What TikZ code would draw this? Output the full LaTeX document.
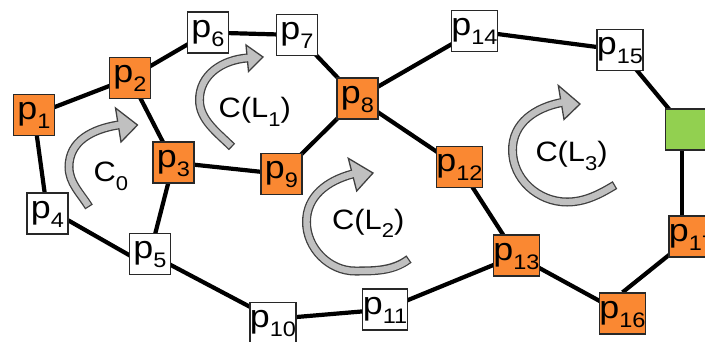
\documentclass[tikz,border=0pt]{standalone}
\usepackage{fontspec}
\setmainfont{Liberation Sans}
\usetikzlibrary{backgrounds}
\definecolor{nodeorange}{RGB}{250,136,50}
\definecolor{nodegreen}{RGB}{146,208,80}
\definecolor{arrowfill}{RGB}{192,192,192}
\definecolor{arrowline}{RGB}{64,64,64}
\definecolor{boxline}{RGB}{40,40,40}
\newcommand{\plab}[1]{\scalebox{1.12}[1]{\fontsize{32}{32}\selectfont p\raisebox{-9pt}{\fontsize{21}{21}\selectfont #1}}}
\newcommand{\csb}[1]{\raisebox{-8.5pt}{\fontsize{20}{20}\selectfont #1}}
\newcommand{\clab}[1]{\scalebox{1.1}[1]{\fontsize{28}{28}\selectfont #1}}
\tikzset{
  pbox/.style={draw=boxline, line width=1.3pt, minimum width=41pt, minimum height=41pt, inner sep=0pt, text height=17pt, text depth=8pt},
  po/.style={pbox, fill=nodeorange},
  pw/.style={pbox, fill=white},
  pg/.style={pbox, fill=nodegreen},
  edge/.style={draw=black, line width=4.2pt},
  band/.style={draw=arrowline, line width=9pt, postaction={draw=arrowfill, line width=6.4pt, shorten <=1.3pt}},
  head/.style={fill=arrowfill, draw=arrowline, line width=1.3pt, line join=miter},
  patch/.style={draw=arrowfill, line width=6.4pt},
  clabel/.style={anchor=base west, inner sep=0pt}
}
\begin{document}
\begin{tikzpicture}[x=1pt,y=-1pt]
\useasboundingbox (0,0) rectangle (705,341);
\clip (0,0) rectangle (705,341);
% nodes
\node[po] (p1) at (34,115) {\plab{1}};
\node[po] (p2) at (130,78) {\plab{2}};
\node[po] (p3) at (173.5,162.5) {\plab{3}};
\node[pw] (p4) at (47.5,213.5) {\plab{4}};
\node[pw] (p5) at (150,254) {\plab{5}};
\node[pw] (p6) at (208,32.5) {\plab{6}};
\node[pw] (p7) at (297,35) {\plab{7}};
\node[po] (p8) at (357.5,98.5) {\plab{8}};
\node[po] (p9) at (281.5,174) {\plab{9}};
\node[pw] (p10) at (273,323) {\plab{10}};
\node[pw] (p11) at (385,309.5) {\plab{11}};
\node[po] (p12) at (459.5,167) {\plab{12}};
\node[po] (p13) at (516.5,255.5) {\plab{13}};
\node[pw] (p14) at (474.5,31) {\plab{14}};
\node[pw] (p15) at (620,50) {\plab{15}};
\node[pg] (g) at (686,129.5) {};
\node[po] (p17) at (692,236.5) {\plab{17}};
\node[po] (p16) at (622.5,313.5) {\plab{16}};
% edges
\begin{pgfonlayer}{background}
\draw[edge] (p1.center) -- (p2.center);
\draw[edge] (p2.center) -- (p6.center);
\draw[edge] (p6.center) -- (p7.center);
\draw[edge] (p7.center) -- (p8.center);
\draw[edge] (p8.center) -- (p14.center);
\draw[edge] (p14.center) -- (p15.center);
\draw[edge] (p15.center) -- (g.center);
\draw[edge] ([xshift=-4pt]g.center) -- ([xshift=-10pt]p17.center);
\draw[edge] (p17.center) -- (p16.north);
\draw[edge] (p16.center) -- (p13.center);
\draw[edge] (p13.center) -- (p12.center);
\draw[edge] (p12.center) -- (p8.center);
\draw[edge] (p8.center) -- (p9.center);
\draw[edge] (p9.center) -- (p3.center);
\draw[edge] (p3.center) -- (p2.center);
\draw[edge] (p3.center) -- (p5.center);
\draw[edge] (p1.center) -- (p4.center);
\draw[edge] ([yshift=5pt]p4.center) -- ([yshift=-13pt]p5.center);
\draw[edge] (p5.center) -- ([yshift=4pt]p10.center);
\draw[edge] ([yshift=4pt]p10.center) -- (p11.center);
\draw[edge] (p11.center) -- (p13.center);
\end{pgfonlayer}
% cycle arrows
\path[band] (89,207) .. controls (80.7,193.4) and (69,183) .. (69,167) .. controls (69,141) and (92.3,129.2) .. (118,125);
\path[head] (115.5,108) -- (137.5,125) -- (121,142) -- cycle;
\path[patch] (116,125.3) -- (120,124.7);
\path[band] (232,147) .. controls (218,133) and (199.5,120) .. (199.5,100) .. controls (199.5,75) and (222,60) .. (247,58);
\path[head] (246,45) -- (263,57) -- (248.5,71.5) -- cycle;
\path[patch] (245,58.2) -- (249,57.8);
\path[band] (409,259) .. controls (393,271) and (375,271) .. (355,271) .. controls (329,271) and (306.5,248) .. (306.5,222) .. controls (306.5,196) and (327.4,180.7) .. (352.5,174);
\path[head] (348.3,158.3) -- (373,173) -- (356.7,191) -- cycle;
\path[patch] (350.6,174.5) -- (354.4,173.5);
\path[band] (615,185) .. controls (599.6,194.3) and (585,202) .. (567,202) .. controls (538,202) and (512.5,179) .. (512.5,150) .. controls (512.5,123) and (535.2,107.6) .. (561.7,102.5);
\path[head] (558.3,85.5) -- (580,104) -- (564,119.5) -- cycle;
\path[patch] (559.7,102.9) -- (563.7,102.1);
% labels
\node[clabel] (c0) at (93.5,181.7) {\clab{C\csb{0}}};
\node[clabel] (c1) at (218.5,117.5) {\clab{C(L\csb{1})}};
\node[clabel] (c2) at (332,229) {\clab{C(L\csb{2})}};
\node[clabel] (c3) at (535.3,161.7) {\clab{C(L\csb{3})}};
\end{tikzpicture}
\end{document}
